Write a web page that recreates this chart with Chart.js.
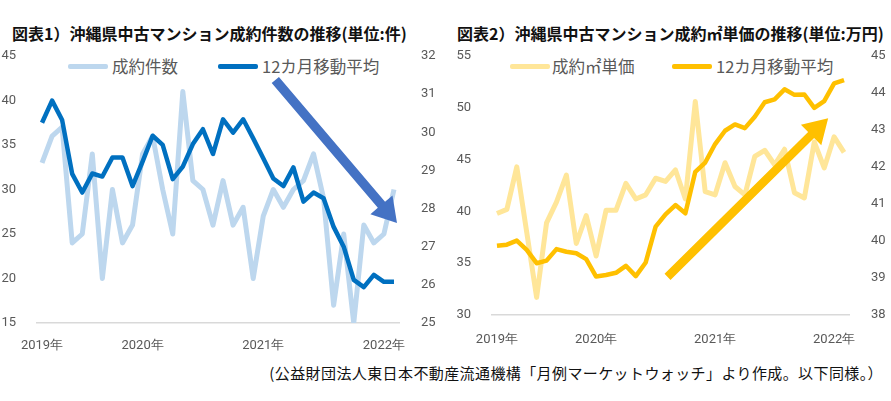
<!DOCTYPE html>
<html lang="ja">
<head>
<meta charset="utf-8">
<script src="https://cdn.jsdelivr.net/npm/chart.js@4.4.1/dist/chart.umd.min.js"></script>
<style>
    body { margin: 0; background: #fff; width: 891px; height: 401px; overflow: hidden; position: relative; font-family: "Noto Sans CJK JP", sans-serif; }
    .title { position: absolute; top: 23px; font-size: 16px; font-weight: bold; color: #111; line-height: 20px; white-space: nowrap; }
    .legend { position: absolute; top: 54px; font-size: 16.5px; color: #595959; line-height: 24px; white-space: nowrap; }
    .legend span.swatch { position: absolute; top: 10px; width: 40px; height: 5px; border-radius: 2px; }
    .legend span.label { position: absolute; top: 0; }
    .source { position: absolute; right: 8px; top: 362px; font-size: 15px; letter-spacing: 0.4px; color: #111; line-height: 22px; white-space: nowrap; }
    canvas { position: absolute; top: 0; }
</style>
</head>
<body>
<div class="title" style="left:12px">図表1）沖縄県中古マンション成約件数の推移(単位:件)</div>
<div class="title" style="left:457px">図表2）沖縄県中古マンション成約㎡単価の推移(単位:万円)</div>

<div class="legend" style="left:0">
    <span class="swatch" style="left:68px;background:#BDD7EE"></span><span class="label" style="left:112px">成約件数</span>
    <span class="swatch" style="left:218px;background:#0070C0"></span><span class="label" style="left:262px">12カ月移動平均</span>
</div>
<div class="legend" style="left:445px">
    <span class="swatch" style="left:65px;background:#FFE699"></span><span class="label" style="left:107px">成約㎡単価</span>
    <span class="swatch" style="left:227px;background:#FFC000"></span><span class="label" style="left:271px">12カ月移動平均</span>
</div>

<canvas id="countChart" style="left:0"></canvas>
<canvas id="priceChart" style="left:445px"></canvas>

<div class="source">(公益財団法人東日本不動産流通機構「月例マーケットウォッチ」より作成。以下同様。）</div>

<script>
// Months: Mar 2019 - Feb 2022
const months = [
    '2019/03', '2019/04', '2019/05', '2019/06', '2019/07', '2019/08', '2019/09', '2019/10', '2019/11', '2019/12',
    '2020/01', '2020/02', '2020/03', '2020/04', '2020/05', '2020/06', '2020/07', '2020/08', '2020/09', '2020/10', '2020/11', '2020/12',
    '2021/01', '2021/02', '2021/03', '2021/04', '2021/05', '2021/06', '2021/07', '2021/08', '2021/09', '2021/10', '2021/11', '2021/12',
    '2022/01', '2022/02'
];

// Chart 1: number of contracts (left axis) and 12-month moving average (right axis)
const contractCounts = [33, 36, 37, 24, 25, 34, 20, 30, 24, 26, 34, 36, 30, 25, 41, 31, 30, 26, 31, 26,
    28, 20, 27, 30, 28, 30, 31, 34, 29, 17, 25, 15, 26, 24, 25, 30];
const countMovingAvg = [30.25, 30.83, 30.32, 28.91, 28.42, 28.92, 28.84, 29.34, 29.34, 28.59, 29.23, 29.91,
    29.67, 28.77, 29.10, 29.69, 30.08, 29.43, 30.34, 29.99, 30.34, 29.84, 29.32, 28.79,
    28.59, 29.08, 28.18, 28.42, 28.27, 27.52, 27.00, 26.13, 25.94, 26.26, 26.08, 26.08];

// Chart 2: price per m2 (left axis) and 12-month moving average (right axis)
const unitPrices = [39.8, 40.2, 44.3, 38.0, 31.7, 38.9, 40.9, 43.5, 36.9, 39.6, 35.7, 40.1,
    40.1, 42.7, 41.2, 41.6, 43.2, 42.9, 44.0, 41.2, 50.6, 41.9, 41.6, 44.7,
    42.4, 41.6, 45.3, 45.9, 44.5, 46.0, 41.8, 41.3, 46.7, 44.2, 47.2, 45.7];
const priceMovingAvg = [39.87, 39.90, 40.01, 39.76, 39.40, 39.47, 39.78, 39.71, 39.67, 39.51, 39.04, 39.08,
    39.14, 39.33, 39.05, 39.42, 40.39, 40.72, 40.97, 40.75, 41.87, 42.12, 42.62, 42.98,
    43.15, 43.05, 43.36, 43.75, 43.83, 44.10, 43.95, 43.96, 43.60, 43.78, 44.26, 44.35];

// Trend arrows, in data units: [index, right-axis value]
const countArrow = { from: [23.2, 31.37], to: [35.3, 27.62] };
const priceArrow = { from: [17.2, 39.03], to: [33.4, 43.32] };

const tickFont = { family: 'Roboto, "Noto Sans", sans-serif', size: 13 };
const tickColor = '#595959';

function yearTick(value, index) {
    const m = months[index];
    if (index === 0 || m.endsWith('/01')) return m.slice(0, 4) + '年';
    return '';
}

// Draws a filled arrow on top of the lines
function arrowPlugin(arrow, color, shaft, headLen, headWidth) {
    return {
        id: 'trendArrow',
        afterDatasetsDraw(chart) {
            const x = chart.scales.x, y = chart.scales.y1;
            const x1 = x.getPixelForValue(arrow.from[0]), y1 = y.getPixelForValue(arrow.from[1]);
            const x2 = x.getPixelForValue(arrow.to[0]), y2 = y.getPixelForValue(arrow.to[1]);
            const ang = Math.atan2(y2 - y1, x2 - x1);
            const len = Math.hypot(x2 - x1, y2 - y1);
            const ctx = chart.ctx;
            ctx.save();
            ctx.translate(x1, y1);
            ctx.rotate(ang);
            ctx.fillStyle = color;
            ctx.beginPath();
            ctx.moveTo(0, -shaft / 2);
            ctx.lineTo(len - headLen, -shaft / 2);
            ctx.lineTo(len - headLen, -headWidth / 2);
            ctx.lineTo(len, 0);
            ctx.lineTo(len - headLen, headWidth / 2);
            ctx.lineTo(len - headLen, shaft / 2);
            ctx.lineTo(0, shaft / 2);
            ctx.closePath();
            ctx.fill();
            ctx.restore();
        }
    };
}

function buildChart(id, cfg) {
    const canvas = document.getElementById(id);
    canvas.width = cfg.width;
    canvas.height = cfg.height;
    canvas.style.width = cfg.width + 'px';
    canvas.style.height = cfg.height + 'px';
    return new Chart(canvas.getContext('2d'), {
        type: 'line',
        data: {
            labels: months,
            datasets: [
                {
                    label: cfg.rawLabel,
                    data: cfg.raw,
                    borderColor: cfg.rawColor,
                    borderWidth: 5,
                    borderJoinStyle: 'round',
                    pointRadius: 0,
                    yAxisID: 'y',
                    order: 2
                },
                {
                    label: '12カ月移動平均',
                    data: cfg.avg,
                    borderColor: cfg.avgColor,
                    borderWidth: 4.5,
                    borderJoinStyle: 'round',
                    pointRadius: 0,
                    yAxisID: 'y1',
                    order: 1
                }
            ]
        },
        options: {
            responsive: false,
            animation: false,
            devicePixelRatio: 1,
            layout: { padding: { top: 56, left: 0, right: 0, bottom: 0 } },
            plugins: { legend: { display: false }, tooltip: { enabled: false } },
            scales: {
                x: {
                    offset: true,
                    grid: { display: false },
                    border: { display: true, color: '#D9D9D9', width: 1.5 },
                    ticks: { autoSkip: false, maxRotation: 0, padding: cfg.xPad, font: tickFont, color: tickColor, callback: yearTick },
                    afterFit(scale) { scale.height = cfg.xHeight; }
                },
                y: {
                    position: 'left',
                    min: cfg.yMin, max: cfg.yMax,
                    grid: { display: false },
                    border: { display: false },
                    ticks: { stepSize: cfg.yStep, padding: 13, font: tickFont, color: tickColor },
                    afterFit(scale) { scale.width = cfg.leftWidth; }
                },
                y1: {
                    position: 'right',
                    min: cfg.y1Min, max: cfg.y1Max,
                    grid: { display: false },
                    border: { display: false },
                    ticks: { stepSize: 1, padding: 14, font: tickFont, color: tickColor },
                    afterFit(scale) { scale.width = cfg.rightWidth; }
                }
            }
        },
        plugins: [arrowPlugin(cfg.arrow, cfg.arrowColor, cfg.shaft, 24, 29)]
    });
}

buildChart('countChart', {
    width: 445, height: 360,
    rawLabel: '成約件数', raw: contractCounts, avg: countMovingAvg,
    rawColor: '#BDD7EE', avgColor: '#0070C0',
    yMin: 15, yMax: 45, yStep: 5, y1Min: 25, y1Max: 32,
    leftWidth: 37, rightWidth: 46, xHeight: 37, xPad: 7,
    arrow: countArrow, arrowColor: '#4472C4', shaft: 9.5
});

buildChart('priceChart', {
    width: 446, height: 352,
    rawLabel: '成約㎡単価', raw: unitPrices, avg: priceMovingAvg,
    rawColor: '#FFE699', avgColor: '#FFC000',
    yMin: 30, yMax: 55, yStep: 5, y1Min: 38, y1Max: 45,
    leftWidth: 47, rightWidth: 42, xHeight: 37, xPad: 9,
    arrow: priceArrow, arrowColor: '#FFC000', shaft: 8.5
});
</script>
</body>
</html>
